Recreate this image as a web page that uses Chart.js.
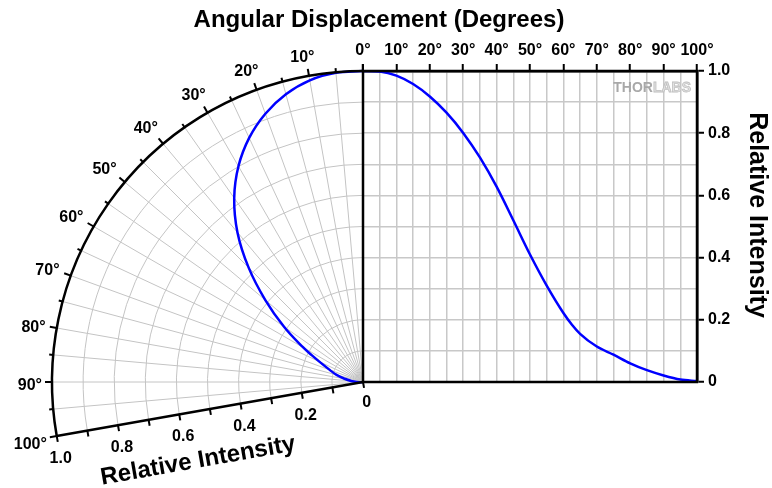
<!DOCTYPE html>
<html>
<head>
<script src="https://cdn.jsdelivr.net/npm/chart.js@4.4.1/dist/chart.umd.min.js"></script>
<style>
  body { margin: 0; background: #fff; }
  #wrap { position: relative; width: 772px; height: 488px; }
  #wrap canvas { position: absolute; left: 0; top: 0; }
</style>
<title>Angular Displacement</title>
</head>
<body>
<div id="wrap">
  <canvas id="polar" width="772" height="488"></canvas>
  <canvas id="cart" width="772" height="488"></canvas>
</div>
<script>
const angles = [0, 5, 10, 15, 20, 25, 30, 35, 40, 45, 50, 55, 60, 62.5, 65, 70, 75, 80, 85, 90, 95, 100];
const intensity = [1.0, 0.998, 0.985, 0.958, 0.918, 0.866, 0.801, 0.722, 0.628, 0.52, 0.41, 0.31, 0.222, 0.185, 0.155, 0.114, 0.088, 0.06, 0.038, 0.021, 0.008, 0.003];

// axis ticks
const angleGrid = [0, 5, 10, 15, 20, 25, 30, 35, 40, 45, 50, 55, 60, 65, 70, 75, 80, 85, 90, 95, 100];
const angleLabels = [0, 10, 20, 30, 40, 50, 60, 70, 80, 90, 100];
const intensityGrid = [0, 0.1, 0.2, 0.3, 0.4, 0.5, 0.6, 0.7, 0.8, 0.9, 1.0];
const intensityLabels = [0, 0.2, 0.4, 0.6, 0.8, 1.0];

const FONT = "'Liberation Sans', Arial, sans-serif";
Chart.defaults.font.family = FONT;

const rad = d => d * Math.PI / 180;
const fmtI = v => v === 0 ? '0' : v.toFixed(1);
const isLabel = (list, v) => list.some(l => Math.abs(l - v) < 1e-6);

// ---------- polar half (left) ----------
const polarGrid = {
  id: 'polarGrid',
  beforeDatasetsDraw(chart) {
    const ctx = chart.ctx;
    const sx = chart.scales.x, sy = chart.scales.y;
    const cx = sx.getPixelForValue(0), cy = sy.getPixelForValue(0);
    const R = cx - sx.getPixelForValue(-1);
    ctx.save();
    ctx.strokeStyle = '#c4c4c4';
    ctx.lineWidth = 1;
    intensityGrid.forEach(r => {
      if (r === 0 || r === 1) return;
      ctx.beginPath();
      ctx.arc(cx, cy, r * R, rad(-190), rad(-90));
      ctx.stroke();
    });
    angleGrid.forEach(a => {
      if (a === 0 || a === 100) return;
      const phi = rad(-90 - a);
      ctx.beginPath();
      ctx.moveTo(cx, cy);
      ctx.lineTo(cx + R * Math.cos(phi), cy + R * Math.sin(phi));
      ctx.stroke();
    });
    ctx.restore();
  },
  afterDraw(chart) {
    const ctx = chart.ctx;
    const sx = chart.scales.x, sy = chart.scales.y;
    const cx = sx.getPixelForValue(0), cy = sy.getPixelForValue(0);
    const R = cx - sx.getPixelForValue(-1);
    ctx.save();
    ctx.strokeStyle = '#000';
    ctx.lineCap = 'butt';
    // outer arc
    ctx.lineWidth = 2.5;
    ctx.beginPath();
    ctx.arc(cx, cy, R, rad(-190), rad(-90));
    ctx.stroke();
    // radial axis along 100 deg
    const p100 = rad(-190);
    ctx.beginPath();
    ctx.moveTo(cx, cy);
    ctx.lineTo(cx + R * Math.cos(p100), cy + R * Math.sin(p100));
    ctx.stroke();
    // arc ticks
    ctx.lineWidth = 2;
    angleGrid.forEach(a => {
      const phi = rad(-90 - a);
      const len = a % 10 === 0 ? 7 : 4;
      ctx.beginPath();
      ctx.moveTo(cx + R * Math.cos(phi), cy + R * Math.sin(phi));
      ctx.lineTo(cx + (R + len) * Math.cos(phi), cy + (R + len) * Math.sin(phi));
      ctx.stroke();
    });
    // radial axis ticks (normal pointing down)
    const nx = Math.sin(rad(10)), ny = Math.cos(rad(10));
    intensityGrid.forEach(r => {
      const px = cx + r * R * Math.cos(p100), py = cy + r * R * Math.sin(p100);
      ctx.beginPath();
      ctx.moveTo(px, py);
      ctx.lineTo(px + nx * 6, py + ny * 6);
      ctx.stroke();
    });
    // labels
    ctx.fillStyle = '#000';
    ctx.font = 'bold 16px ' + FONT;
    ctx.textAlign = 'center';
    ctx.textBaseline = 'middle';
    intensityLabels.forEach(r => {
      const px = cx + r * R * Math.cos(p100), py = cy + r * R * Math.sin(p100);
      const off = r === 0 ? 21 : 23;
      ctx.fillText(fmtI(r), px + nx * off, py + ny * off);
    });
    angleLabels.forEach(a => {
      if (a === 0) return;
      const txt = a + '\u00b0';
      const w = ctx.measureText(txt).width;
      const phi = rad(-90 - a - 0.6);
      const c = Math.cos(phi), s = Math.sin(phi);
      const ext = Math.abs(c) * w / 2 + Math.abs(s) * 6.5;
      const d = R + 10 + ext;
      ctx.fillText(txt, cx + d * c, cy + d * s);
    });
    // title and axis titles
    ctx.font = 'bold 24px ' + FONT;
    ctx.fillText('Angular Displacement (Degrees)', 379, 20);
    ctx.save();
    ctx.translate(198, 461);
    ctx.rotate(rad(-10));
    ctx.fillText('Relative Intensity', 0, 0);
    ctx.restore();
    ctx.save();
    ctx.font = 'bold 25px ' + FONT;
    ctx.translate(757, 215);
    ctx.rotate(rad(90));
    ctx.fillText('Relative Intensity', 0, 0);
    ctx.restore();
    ctx.restore();
  }
};

new Chart(document.getElementById('polar'), {
  type: 'scatter',
  data: {
    datasets: [{
      data: angles.map((a, i) => ({ x: -intensity[i] * Math.sin(rad(a)), y: intensity[i] * Math.cos(rad(a)) })),
      showLine: true,
      borderColor: '#0000ff',
      borderWidth: 2.5,
      pointRadius: 0,
      tension: 0.4,
      clip: false
    }]
  },
  options: {
    responsive: false,
    animation: false,
    devicePixelRatio: 1,
    layout: { padding: { left: 52, right: 409, top: 71, bottom: 488 - 71 - 311 * 1.2 } },
    plugins: { legend: { display: false }, tooltip: { enabled: false } },
    scales: {
      x: { type: 'linear', min: -1, max: 0, display: false },
      y: { type: 'linear', min: -0.2, max: 1, display: false }
    }
  },
  plugins: [polarGrid]
});

// ---------- cartesian half (right) ----------
const frame = {
  id: 'frame',
  afterDraw(chart) {
    const { left, top, right, bottom } = chart.chartArea;
    const ctx = chart.ctx;
    ctx.save();
    ctx.strokeStyle = '#000';
    ctx.lineWidth = 2.5;
    ctx.strokeRect(left, top, right - left, bottom - top);
    // logo
    ctx.font = "bold 14px 'Liberation Sans Narrow', 'Liberation Sans', sans-serif";
    ctx.textBaseline = 'alphabetic';
    ctx.textAlign = 'left';
    const w1 = ctx.measureText('THOR').width;
    const w2 = ctx.measureText('LABS').width;
    const x0 = right - 6 - w1 - w2;
    ctx.fillStyle = '#a8a8a8';
    ctx.fillText('THOR', x0, top + 21);
    ctx.fillStyle = '#e2e2e2';
    ctx.strokeStyle = '#c0c0c0';
    ctx.lineWidth = 0.8;
    ctx.fillText('LABS', x0 + w1, top + 21);
    ctx.strokeText('LABS', x0 + w1, top + 21);
    ctx.restore();
  }
};

const tickFont = { size: 16, weight: 'bold' };

new Chart(document.getElementById('cart'), {
  type: 'line',
  data: {
    datasets: [{
      data: angles.map((a, i) => ({ x: a, y: intensity[i] })),
      borderColor: '#0000ff',
      borderWidth: 2.5,
      pointRadius: 0,
      cubicInterpolationMode: 'monotone',
      fill: false
    }]
  },
  options: {
    responsive: false,
    animation: false,
    devicePixelRatio: 1,
    layout: { padding: { left: 363, top: 41, right: 35, bottom: 106 } },
    plugins: { legend: { display: false }, tooltip: { enabled: false } },
    scales: {
      x: {
        type: 'linear', position: 'top', min: 0, max: 100,
        afterFit: s => { s.height = 30; },
        afterBuildTicks: s => { s.ticks = angleGrid.map(v => ({ value: v })); },
        ticks: {
          autoSkip: false, maxRotation: 0, padding: 4, color: '#000', font: tickFont,
          callback: v => isLabel(angleLabels, v) ? v + '\u00b0' : ''
        },
        grid: {
          color: '#c8c8c8', lineWidth: 1.5, tickLength: 7, tickWidth: 2,
          tickColor: c => c.tick && isLabel(angleLabels, c.tick.value) ? '#000' : 'rgba(0,0,0,0)'
        },
        border: { display: true, color: '#000', width: 2.5 }
      },
      y: {
        type: 'linear', position: 'right', min: 0, max: 1,
        afterFit: s => { s.width = 40; },
        afterBuildTicks: s => { s.ticks = intensityGrid.map(v => ({ value: v })); },
        ticks: {
          autoSkip: false, padding: 4, color: '#000', font: tickFont,
          callback: v => isLabel(intensityLabels, v) ? fmtI(v) : ''
        },
        grid: {
          color: '#c8c8c8', lineWidth: 1.5, tickLength: 7, tickWidth: 2,
          tickColor: c => c.tick && isLabel(intensityLabels, c.tick.value) ? '#000' : 'rgba(0,0,0,0)'
        },
        border: { display: true, color: '#000', width: 2.5 }
      }
    }
  },
  plugins: [frame]
});
</script>
</body>
</html>
